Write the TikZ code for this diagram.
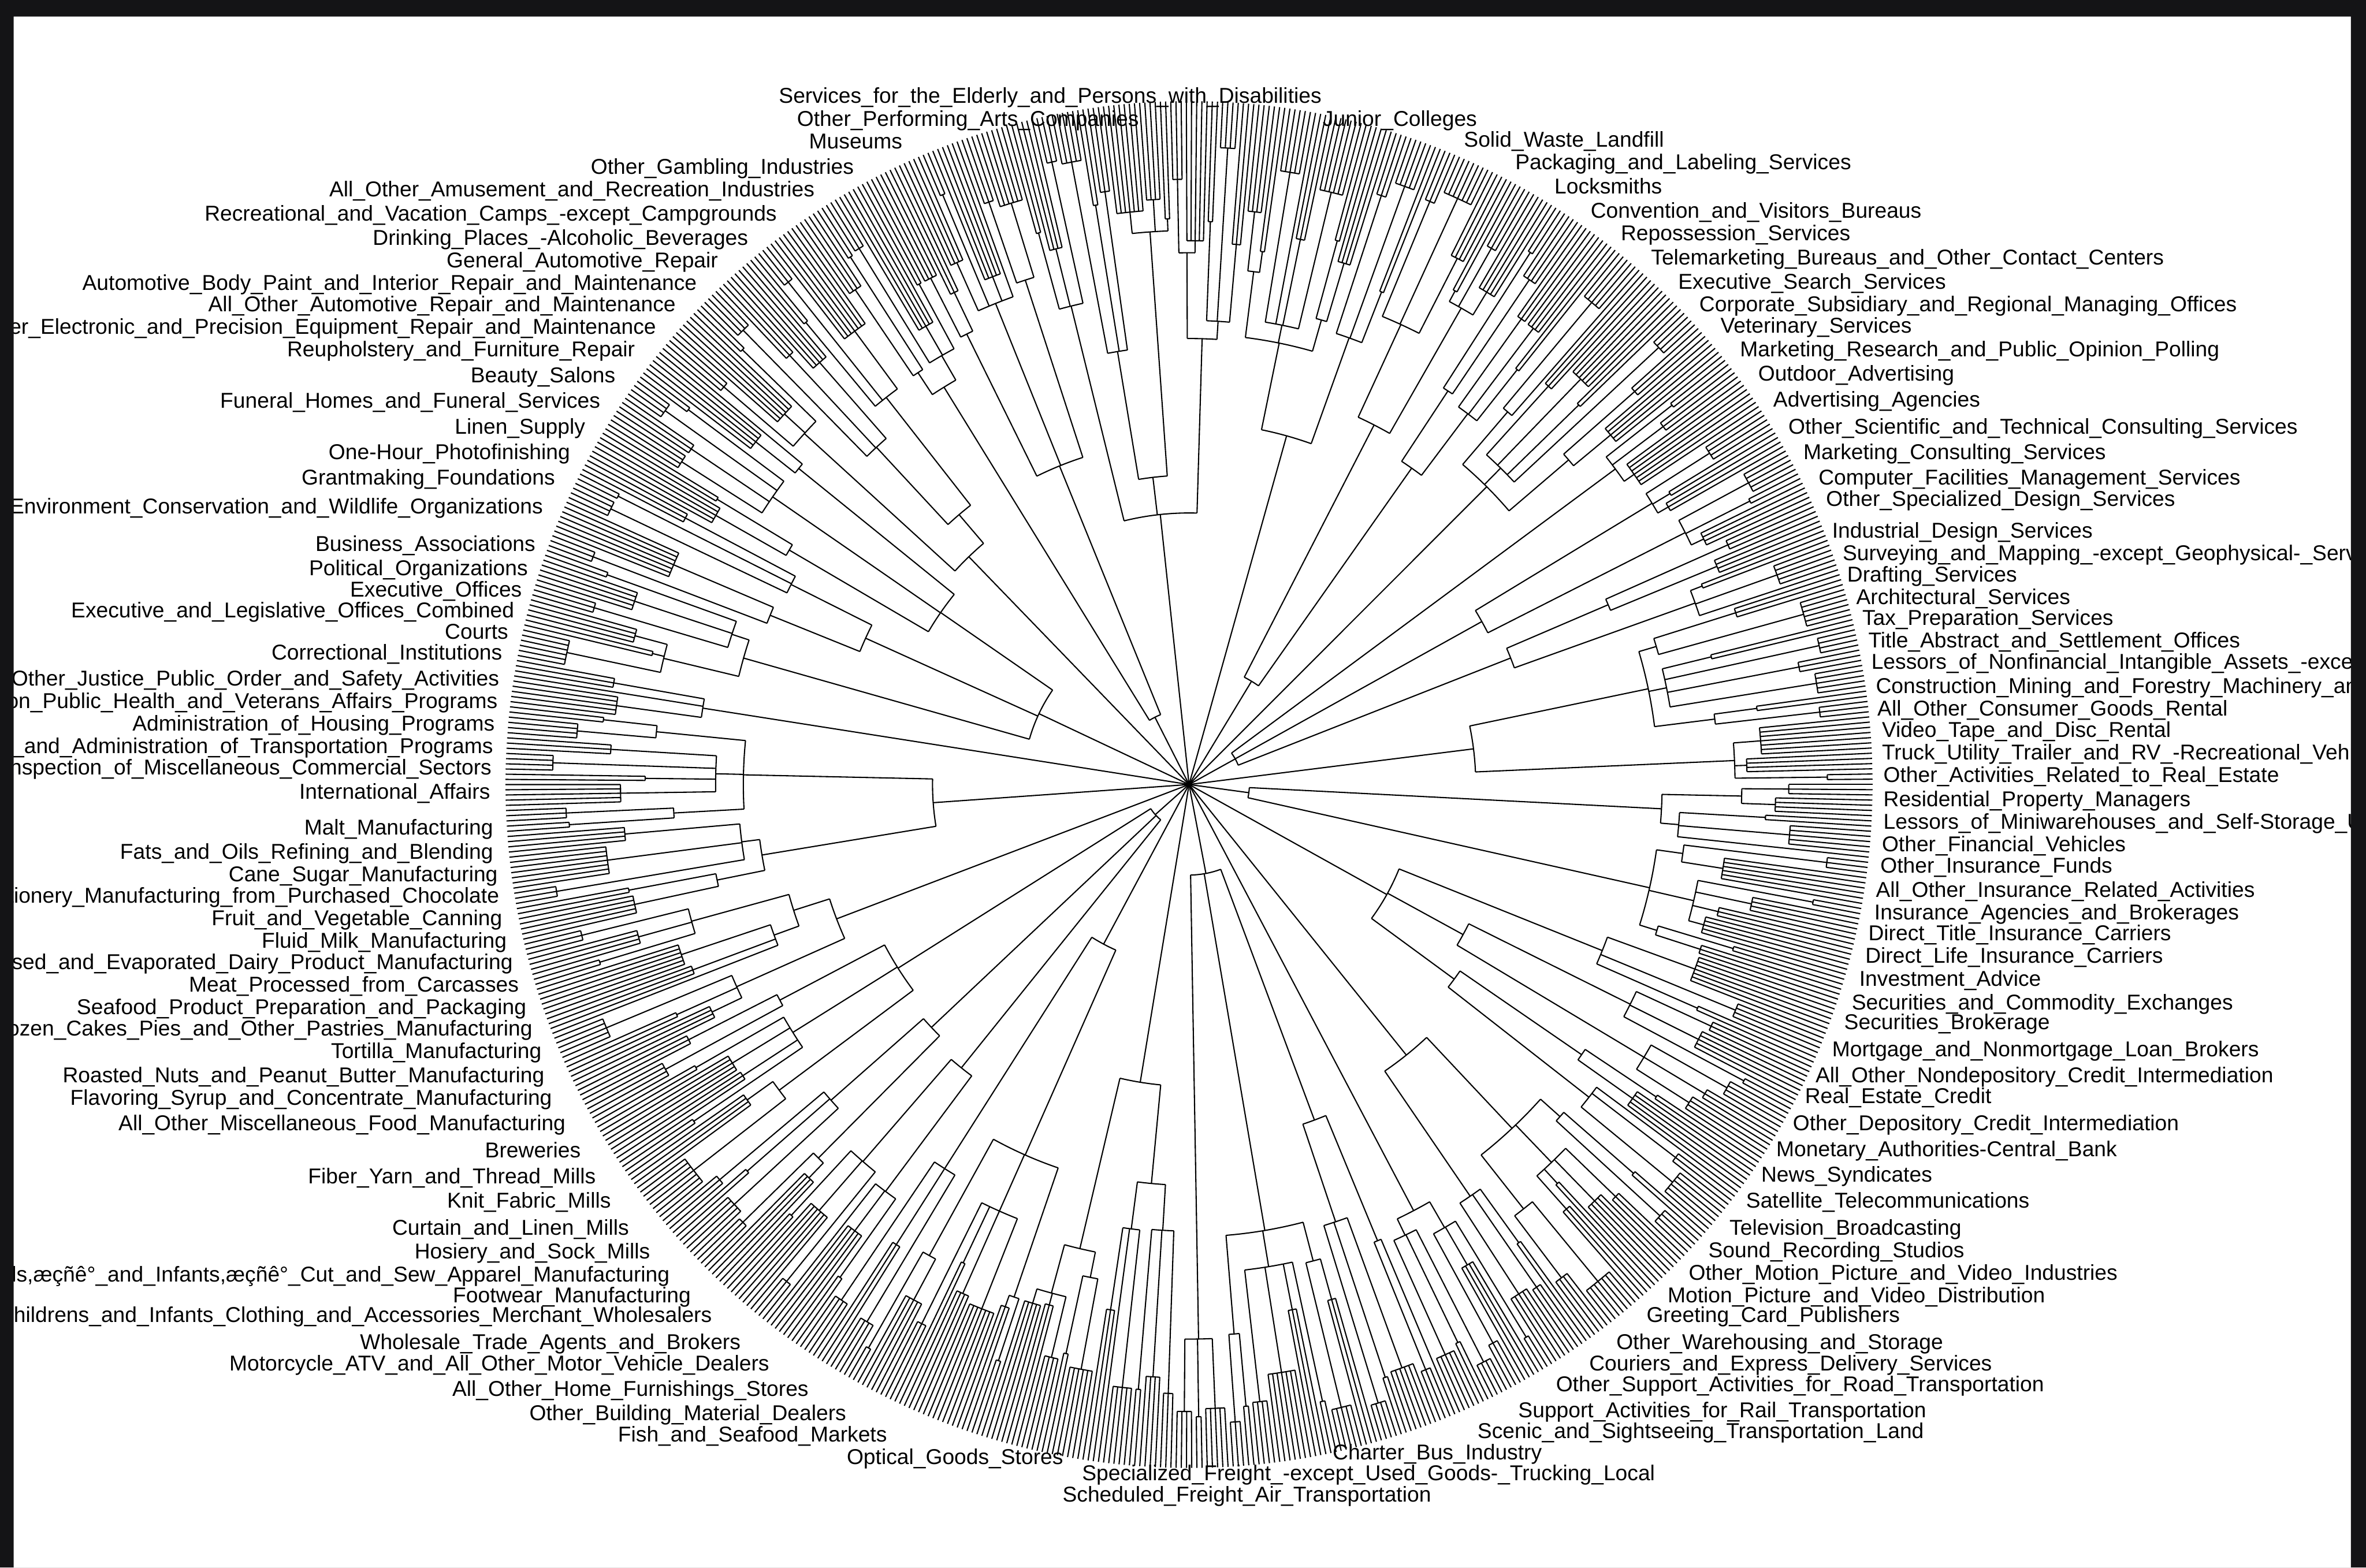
\documentclass[tikz,border=0pt]{standalone}
\usepackage{fontspec}
\setmainfont{Liberation Sans}

\definecolor{framedark}{RGB}{20,20,22}

\newcount\leafno
\newcount\tuftno
\newcount\twigno
\newcount\limbno
\newcount\rngstate
\newcount\rngtmp
\newif\ifdrawtree

\def\leafpattern{{3,4,2,5,1,3,6,2,4,3,5,2,3,7,4,2,3,5,2,4}}
\def\twigpattern{{2,3,2,4,2,3,3,3}}
\def\limbpattern{{2,3,1,2,2,3,1,2}}
\def\cladelist{2/40,3/150,2/230,1/90,3/60,2/200,2/120,3/30,2/250,2/170,1/70,3/110,2/210,2/50,3/180,2/240,2/80,1/140,3/35,2/190}
\def\rleaf{453}
\def\astart{0}

\def\nextrand{%
  \rngtmp=\rngstate \multiply\rngtmp by 75 \advance\rngtmp by 74
  \count255=\rngtmp \divide\count255 by 65537 \multiply\count255 by 65537
  \advance\rngtmp by -\count255
  \global\rngstate=\rngtmp
  \multiply\rngtmp by 1000 \divide\rngtmp by 65537
  \edef\randval{\the\rngtmp}%
}

\def\walktree{%
  \global\leafno=0 \global\tuftno=0 \global\twigno=0 \global\limbno=0
  \foreach \ntwo/\rone in \cladelist {%
    \foreach \ib in {1,...,\ntwo} {%
      \pgfmathtruncatemacro\nthree{\limbpattern[mod(\the\limbno,8)]}%
      \global\advance\limbno by 1\relax
      \ifdrawtree\nextrand\pgfmathsetmacro\rtwo{min(max(\rone+25,200+0.12*\randval),340)}\fi
      \foreach \ic in {1,...,\nthree} {%
        \pgfmathtruncatemacro\nfour{\twigpattern[mod(\the\twigno,8)]}%
        \global\advance\twigno by 1\relax
        \ifdrawtree\nextrand\pgfmathsetmacro\rthree{min(max(\rtwo+12,290+0.08*\randval),400)}\fi
        \foreach \idd in {1,...,\nfour} {%
          \pgfmathtruncatemacro\nleaf{\leafpattern[mod(\the\tuftno,20)]}%
          \global\advance\tuftno by 1\relax
          \ifdrawtree
            \nextrand
            \pgfmathsetmacro\rfour{min(max(\rthree+8,350+0.08*\randval),435)}%
            \pgfmathsetmacro\aone{\astart+\the\leafno*\dang}%
            \pgfmathsetmacro\atwo{\aone+(\nleaf-1)*\dang}%
            \foreach \iee in {1,...,\nleaf} {%
              \pgfmathsetmacro\aleaf{\aone+(\iee-1)*\dang}%
              \draw[branch] (\aleaf:\rfour) -- (\aleaf:\rleaf);
            }%
            \ifnum\nleaf>1
              \draw[branch] (\aone:\rfour) arc[start angle=\aone, end angle=\atwo, radius=\rfour];
            \fi
            \pgfmathsetmacro\amid{(\aone+\atwo)/2}%
            \draw[branch] (\amid:\rthree) -- (\amid:\rfour);
            \ifnum\idd=1 \xdef\fourfirst{\amid}\fi
            \xdef\fourlast{\amid}%
          \fi
          \global\advance\leafno by \nleaf\relax
        }%
        \ifdrawtree
          \ifnum\nfour>1
            \draw[branch] (\fourfirst:\rthree) arc[start angle=\fourfirst, end angle=\fourlast, radius=\rthree];
          \fi
          \pgfmathsetmacro\amid{(\fourfirst+\fourlast)/2}%
          \draw[branch] (\amid:\rtwo) -- (\amid:\rthree);
          \ifnum\ic=1 \xdef\threefirst{\amid}\fi
          \xdef\threelast{\amid}%
        \fi
      }%
      \ifdrawtree
        \ifnum\nthree>1
          \draw[branch] (\threefirst:\rtwo) arc[start angle=\threefirst, end angle=\threelast, radius=\rtwo];
        \fi
        \pgfmathsetmacro\amid{(\threefirst+\threelast)/2}%
        \draw[branch] (\amid:\rone) -- (\amid:\rtwo);
        \ifnum\ib=1 \xdef\twofirst{\amid}\fi
        \xdef\twolast{\amid}%
      \fi
    }%
    \ifdrawtree
      \ifnum\ntwo>1
        \draw[branch] (\twofirst:\rone) arc[start angle=\twofirst, end angle=\twolast, radius=\rone];
      \fi
      \pgfmathsetmacro\amid{(\twofirst+\twolast)/2}%
      \draw[branch] (0,0) -- (\amid:\rone);
    \fi
  }%
}

\begin{document}
\catcode`\_=12
\begin{tikzpicture}[x=1pt, y=-1pt,
    branch/.style={line width=0.8pt},
    leaflabel/.style={inner sep=0pt, text height=9pt, text depth=0pt, font=\fontsize{14.25}{17}\selectfont},
    leftlab/.style={leaflabel, anchor=east},
    rightlab/.style={leaflabel, anchor=west}]
  \useasboundingbox (0,0) rectangle (1568,1039);
  \fill[white] (0,0) rectangle (1568,1039);

  \foreach \lx/\ly/\ltext [count=\k] in {
      516/64/Services_for_the_Elderly_and_Persons_with_Disabilities,
      528/79/Other_Performing_Arts_Companies,
      536/94/Museums,
      970/93/Solid_Waste_Landfill,
      1004/108/Packaging_and_Labeling_Services,
      1030/124/Locksmiths,
      1054/140/Convention_and_Visitors_Bureaus,
      1074/155/Repossession_Services,
      1094/171/Telemarketing_Bureaus_and_Other_Contact_Centers,
      1112/187/Executive_Search_Services,
      1126/202/Corporate_Subsidiary_and_Regional_Managing_Offices,
      1140/216/Veterinary_Services,
      1153/232/Marketing_Research_and_Public_Opinion_Polling,
      1165/248/Outdoor_Advertising,
      1175/265/Advertising_Agencies,
      1185/283/Other_Scientific_and_Technical_Consulting_Services,
      1195/300/Marketing_Consulting_Services,
      1205/317/Computer_Facilities_Management_Services,
      1210/331/Other_Specialized_Design_Services,
      1214/352/Industrial_Design_Services,
      1221/367/Surveying_and_Mapping_-except_Geophysical-_Services,
      1224/381/Drafting_Services,
      1230/396/Architectural_Services,
      1234/410/Tax_Preparation_Services,
      1238/425/Title_Abstract_and_Settlement_Offices,
      1240/439/Lessors_of_Nonfinancial_Intangible_Assets_-except_Copyrighted_Works-,
      1243/455/Construction_Mining_and_Forestry_Machinery_and_Equipment_Rental_and_Leasing,
      1244/470/All_Other_Consumer_Goods_Rental,
      1247/484/Video_Tape_and_Disc_Rental,
      1247/499/Truck_Utility_Trailer_and_RV_-Recreational_Vehicle-_Rental_and_Leasing,
      1248/514/Other_Activities_Related_to_Real_Estate,
      1248/530/Residential_Property_Managers,
      1248/545/Lessors_of_Miniwarehouses_and_Self-Storage_Units,
      1247/560/Other_Financial_Vehicles,
      1246/574/Other_Insurance_Funds,
      1243/590/All_Other_Insurance_Related_Activities,
      1242/605/Insurance_Agencies_and_Brokerages,
      1238/619/Direct_Title_Insurance_Carriers,
      1236/634/Direct_Life_Insurance_Carriers,
      1232/649/Investment_Advice,
      1227/665/Securities_and_Commodity_Exchanges,
      1222/678/Securities_Brokerage,
      1214/696/Mortgage_and_Nonmortgage_Loan_Brokers,
      1203/713/All_Other_Nondepository_Credit_Intermediation,
      1196/727/Real_Estate_Credit,
      1188/745/Other_Depository_Credit_Intermediation,
      1177/762/Monetary_Authorities-Central_Bank,
      1167/779/News_Syndicates,
      1157/796/Satellite_Telecommunications,
      1146/814/Television_Broadcasting,
      1132/829/Sound_Recording_Studios,
      1119/844/Other_Motion_Picture_and_Video_Industries,
      1105/859/Motion_Picture_and_Video_Distribution,
      1091/872/Greeting_Card_Publishers,
      1071/890/Other_Warehousing_and_Storage,
      1053/904/Couriers_and_Express_Delivery_Services,
      1031/918/Other_Support_Activities_for_Road_Transportation,
      1006/935/Support_Activities_for_Rail_Transportation,
      979/949/Scenic_and_Sightseeing_Transportation_Land,
      561/966/Optical_Goods_Stores,
      704/991/Scheduled_Freight_Air_Transportation}
    \node[rightlab] (r\k) at (\lx,\ly) {\ltext};

  \foreach \lx/\ly/\ltext [count=\k] in {
      979/79/Junior_Colleges,
      566/111/Other_Gambling_Industries,
      540/126/All_Other_Amusement_and_Recreation_Industries,
      515/142/Recreational_and_Vacation_Camps_-except_Campgrounds,
      496/158/Drinking_Places_-Alcoholic_Beverages,
      476/173/General_Automotive_Repair,
      462/188/Automotive_Body_Paint_and_Interior_Repair_and_Maintenance,
      448/202/All_Other_Automotive_Repair_and_Maintenance,
      435/217/Other_Electronic_and_Precision_Equipment_Repair_and_Maintenance,
      421/232/Reupholstery_and_Furniture_Repair,
      408/249/Beauty_Salons,
      398/266/Funeral_Homes_and_Funeral_Services,
      388/283/Linen_Supply,
      378/300/One-Hour_Photofinishing,
      368/317/Grantmaking_Foundations,
      360/336/Environment_Conservation_and_Wildlife_Organizations,
      355/361/Business_Associations,
      350/377/Political_Organizations,
      346/391/Executive_Offices,
      341/405/Executive_and_Legislative_Offices_Combined,
      337/419/Courts,
      333/433/Correctional_Institutions,
      331/450/Other_Justice_Public_Order_and_Safety_Activities,
      330/465/Administration_of_Human_Resource_Programs_-except_Education_Public_Health_and_Veterans_Affairs_Programs,
      328/480/Administration_of_Housing_Programs,
      327/495/Regulation_and_Administration_of_Transportation_Programs,
      326/509/Regulation_Licensing_and_Inspection_of_Miscellaneous_Commercial_Sectors,
      325/525/International_Affairs,
      327/549/Malt_Manufacturing,
      327/565/Fats_and_Oils_Refining_and_Blending,
      330/580/Cane_Sugar_Manufacturing,
      331/594/Confectionery_Manufacturing_from_Purchased_Chocolate,
      333/609/Fruit_and_Vegetable_Canning,
      336/624/Fluid_Milk_Manufacturing,
      340/638/Dry_Condensed_and_Evaporated_Dairy_Product_Manufacturing,
      344/653/Meat_Processed_from_Carcasses,
      349/668/Seafood_Product_Preparation_and_Packaging,
      353/682/Frozen_Cakes_Pies_and_Other_Pastries_Manufacturing,
      359/697/Tortilla_Manufacturing,
      361/713/Roasted_Nuts_and_Peanut_Butter_Manufacturing,
      366/728/Flavoring_Syrup_and_Concentrate_Manufacturing,
      375/745/All_Other_Miscellaneous_Food_Manufacturing,
      385/763/Breweries,
      395/780/Fiber_Yarn_and_Thread_Mills,
      405/796/Knit_Fabric_Mills,
      417/814/Curtain_and_Linen_Mills,
      431/830/Hosiery_and_Sock_Mills,
      444/845/{Women,æçñê°s_Girls,æçñê°_and_Infants,æçñê°_Cut_and_Sew_Apparel_Manufacturing},
      458/859/Footwear_Manufacturing,
      472/872/Womens_Childrens_and_Infants_Clothing_and_Accessories_Merchant_Wholesalers,
      491/890/Wholesale_Trade_Agents_and_Brokers,
      510/904/Motorcycle_ATV_and_All_Other_Motor_Vehicle_Dealers,
      536/921/All_Other_Home_Furnishings_Stores,
      561/937/Other_Building_Material_Dealers,
      588/951/Fish_and_Seafood_Markets,
      1097/977/Specialized_Freight_-except_Used_Goods-_Trucking_Local,
      1022/963/Charter_Bus_Industry}
    \node[leftlab] (l\k) at (\lx,\ly) {\ltext};

  \begin{scope}[shift={(788,520)}]
    \drawtreefalse\walktree
    \pgfmathsetmacro\dang{360/\the\leafno}
    \global\rngstate=4321
    \drawtreetrue\walktree
  \end{scope}

  \fill[framedark, even odd rule] (0,0) rectangle (1568,1039) (9,11) rectangle (1558,1039);
\end{tikzpicture}
\end{document}
